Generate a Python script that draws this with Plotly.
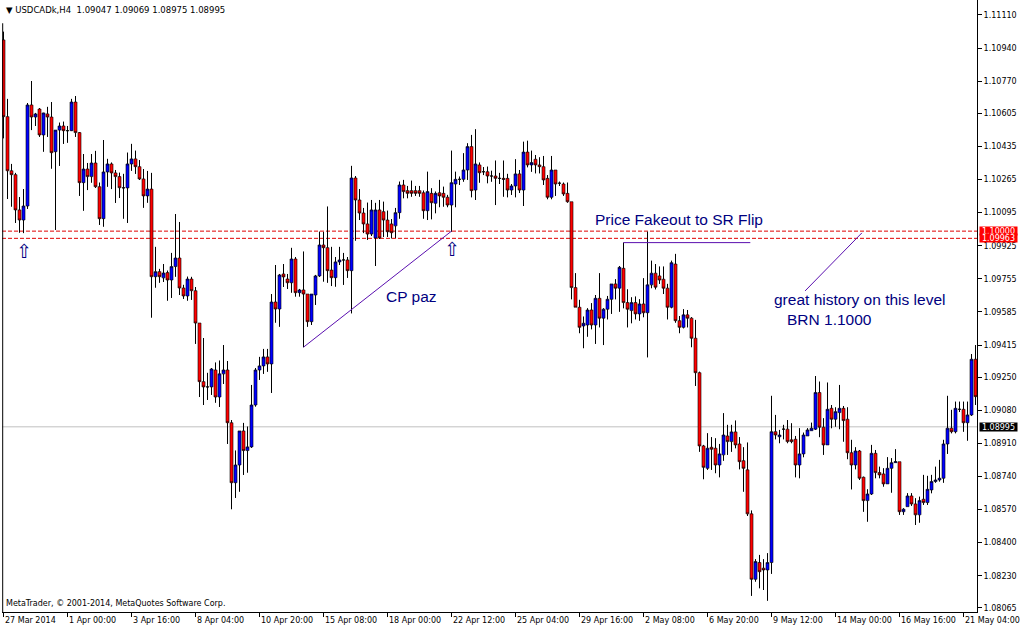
import plotly.graph_objects as go

# ---------------- data (USDCAD H4) ----------------
opens = [1.10982,1.10588,1.10310,1.10290,1.10109,1.10057,1.10129,1.10648,1.10586,1.10627,
         1.10494,1.10602,1.10586,1.10408,1.10519,1.10540,1.10516,1.10516,1.10663,1.10506,
         1.10249,1.10319,1.10280,1.10350,1.10228,1.10064,1.10304,1.10345,1.10299,1.10280,
         1.10223,1.10222,1.10345,1.10371,1.10331,1.10268,1.10181,1.10216,1.09766,1.09792,
         1.09760,1.09787,1.09749,1.09818,1.09862,1.09708,1.09667,1.09754,1.09694,1.09528,
         1.09227,1.09200,1.09200,1.09287,1.09148,1.09267,1.09287,1.09016,1.08708,1.08799,
         1.08974,1.08873,1.08892,1.09107,1.09287,1.09308,1.09354,1.09318,1.09636,1.09600,
         1.09780,1.09754,1.09735,1.09857,1.09684,1.09698,1.09677,1.09535,1.09672,1.09770,
         1.09929,1.09915,1.09800,1.09761,1.09842,1.09852,1.09852,1.09797,1.10273,1.10160,
         1.10093,1.10037,1.09985,1.09965,1.10109,1.10100,1.10057,1.10037,1.10027,1.10095,
         1.10237,1.10208,1.10208,1.10208,1.10208,1.10197,1.10105,1.10194,1.10143,1.10197,
         1.10194,1.10174,1.10134,1.10242,1.10266,1.10266,1.10314,1.10434,1.10211,1.10340,
         1.10305,1.10305,1.10283,1.10283,1.10271,1.10271,1.10271,1.10211,1.10232,1.10294,
         1.10211,1.10406,1.10340,1.10369,1.10340,1.10331,1.10271,1.10174,1.10314,1.10246,
         1.10242,1.10194,1.10151,1.09710,1.09609,1.09513,1.09518,1.09595,1.09518,1.09655,
         1.09553,1.09599,1.09650,1.09729,1.09707,1.09809,1.09633,1.09592,1.09633,1.09575,
         1.09626,1.09581,1.09724,1.09784,1.09770,1.09753,1.09707,1.09609,1.09831,1.09540,
         1.09506,1.09570,1.09553,1.09450,1.09273,1.08897,1.08782,1.08890,1.08885,1.08799,
         1.08851,1.08948,1.08919,1.08969,1.08907,1.08821,1.08774,1.08548,1.08212,1.08298,
         1.08269,1.08260,1.08298,1.08970,1.08944,1.08983,1.08983,1.08928,1.08931,1.08799,
         1.08856,1.08948,1.08975,1.08983,1.09171,1.08993,1.08902,1.09090,1.09034,1.09068,
         1.09090,1.09034,1.08862,1.08799,1.08871,1.08736,1.08616,1.08650,1.08859,1.08760,
         1.08753,1.08702,1.08782,1.08811,1.08816,1.08559,1.08585,1.08640,1.08599,1.08543,
         1.08623,1.08606,1.08671,1.08714,1.08722,1.08731,1.08907,1.08988,1.08970,1.09085,
         1.09085,1.09016,1.09056,1.09342]
highs = [1.11024,1.10679,1.10345,1.10299,1.10175,1.10216,1.10658,1.10771,1.10607,1.10632,
         1.10608,1.10638,1.10663,1.10519,1.10557,1.10562,1.10540,1.10679,1.10694,1.10509,
         1.10396,1.10350,1.10396,1.10412,1.10249,1.10468,1.10371,1.10352,1.10314,1.10300,
         1.10294,1.10403,1.10448,1.10413,1.10365,1.10319,1.10309,1.10299,1.09919,1.09806,
         1.09831,1.09797,1.09888,1.10088,1.10047,1.09724,1.09766,1.09765,1.09713,1.09528,
         1.09451,1.09272,1.09297,1.09325,1.09335,1.09415,1.09333,1.09030,1.08873,1.08974,
         1.09015,1.08996,1.09210,1.09297,1.09354,1.09395,1.09395,1.09677,1.09826,1.09780,
         1.09831,1.09780,1.09914,1.09867,1.09703,1.09895,1.09677,1.09677,1.09775,1.09997,
         1.09996,1.10126,1.09919,1.09867,1.09919,1.09888,1.09867,1.10335,1.10283,1.10216,
         1.10119,1.10146,1.10160,1.10145,1.10160,1.10151,1.10105,1.10062,1.10119,1.10254,
         1.10263,1.10232,1.10259,1.10232,1.10232,1.10208,1.10305,1.10220,1.10203,1.10263,
         1.10228,1.10186,1.10413,1.10305,1.10280,1.10400,1.10451,1.10494,1.10523,1.10352,
         1.10329,1.10331,1.10310,1.10362,1.10299,1.10362,1.10294,1.10242,1.10369,1.10314,
         1.10459,1.10464,1.10413,1.10391,1.10379,1.10386,1.10288,1.10386,1.10314,1.10254,
         1.10249,1.10249,1.10151,1.09784,1.09647,1.09561,1.09604,1.09630,1.09672,1.09784,
         1.09604,1.09667,1.09729,1.09753,1.09821,1.09941,1.09701,1.09660,1.09664,1.09650,
         1.09758,1.09997,1.09848,1.09831,1.09818,1.09818,1.09729,1.09848,1.09883,1.09564,
         1.09599,1.09595,1.09558,1.09544,1.09278,1.08902,1.08962,1.08942,1.08936,1.08907,
         1.09065,1.09005,1.09005,1.09027,1.08942,1.08890,1.08914,1.08565,1.08315,1.08337,
         1.08315,1.08346,1.09154,1.09056,1.08979,1.09005,1.09030,1.09013,1.08948,1.08988,
         1.08965,1.08988,1.09016,1.09256,1.09227,1.09039,1.09222,1.09107,1.09095,1.09210,
         1.09102,1.09095,1.08928,1.08890,1.08876,1.08739,1.08674,1.08902,1.08876,1.08790,
         1.08782,1.08839,1.08834,1.08880,1.08816,1.08577,1.08654,1.08654,1.08628,1.08636,
         1.08748,1.08743,1.08748,1.08790,1.08825,1.08928,1.09154,1.09082,1.09124,1.09124,
         1.09124,1.09124,1.09369,1.09415]
lows = [1.10477,1.10165,1.10126,1.10042,1.09992,1.09990,1.10114,1.10519,1.10540,1.10484,
        1.10408,1.10484,1.10321,1.10006,1.10335,1.10448,1.10454,1.10514,1.10484,1.10181,
        1.10105,1.10211,1.10249,1.10222,1.10032,1.10023,1.10228,1.10216,1.10145,1.10170,
        1.10064,1.10042,1.10310,1.10294,1.10263,1.10120,1.10146,1.09556,1.09710,1.09735,
        1.09739,1.09643,1.09657,1.09766,1.09672,1.09652,1.09643,1.09647,1.09421,1.09148,
        1.09107,1.09133,1.09159,1.09119,1.09097,1.09215,1.08907,1.08572,1.08630,1.08662,
        1.08748,1.08760,1.08887,1.09099,1.09236,1.09267,1.09278,1.09169,1.09530,1.09509,
        1.09713,1.09703,1.09684,1.09664,1.09664,1.09404,1.09509,1.09518,1.09621,1.09765,
        1.09741,1.09735,1.09718,1.09715,1.09826,1.09724,1.09760,1.09578,1.09951,1.10057,
        1.09990,1.09955,1.09975,1.09821,1.09960,1.09970,1.09970,1.09963,1.09965,1.10064,
        1.10169,1.10169,1.10177,1.10181,1.10177,1.10064,1.10057,1.10061,1.10092,1.10123,
        1.10126,1.10123,1.09997,1.10123,1.10237,1.10254,1.10263,1.10174,1.10160,1.10249,
        1.10288,1.10246,1.10254,1.10134,1.10242,1.10177,1.10174,1.10186,1.10174,1.10196,
        1.10129,1.10328,1.10305,1.10297,1.10297,1.10237,1.10164,1.10164,1.10181,1.10232,
        1.10181,1.10146,1.09650,1.09609,1.09476,1.09399,1.09458,1.09496,1.09421,1.09506,
        1.09415,1.09547,1.09575,1.09650,1.09586,1.09604,1.09506,1.09527,1.09547,1.09540,
        1.09558,1.09352,1.09707,1.09701,1.09729,1.09677,1.09547,1.09604,1.09530,1.09476,
        1.09501,1.09506,1.09404,1.09205,1.08867,1.08726,1.08774,1.08774,1.08757,1.08736,
        1.08821,1.08851,1.08867,1.08885,1.08777,1.08662,1.08537,1.08127,1.08200,1.08166,
        1.08157,1.08102,1.08240,1.08931,1.08911,1.08931,1.08911,1.08911,1.08736,1.08731,
        1.08839,1.08948,1.08974,1.08979,1.08942,1.08851,1.08902,1.08988,1.08996,1.08983,
        1.08919,1.08829,1.08674,1.08777,1.08722,1.08559,1.08508,1.08645,1.08731,1.08731,
        1.08688,1.08702,1.08657,1.08810,1.08543,1.08543,1.08585,1.08589,1.08491,1.08503,
        1.08594,1.08594,1.08654,1.08708,1.08714,1.08708,1.08856,1.08962,1.08962,1.09071,
        1.08970,1.08924,1.09051,1.09107]
closes = [1.10588,1.10310,1.10290,1.10109,1.10057,1.10129,1.10648,1.10586,1.10602,1.10494,
          1.10607,1.10586,1.10403,1.10519,1.10540,1.10516,1.10516,1.10663,1.10506,1.10249,
          1.10319,1.10280,1.10350,1.10228,1.10064,1.10304,1.10345,1.10299,1.10280,1.10223,
          1.10222,1.10345,1.10371,1.10331,1.10268,1.10181,1.10216,1.09766,1.09792,1.09766,
          1.09785,1.09749,1.09818,1.09862,1.09708,1.09667,1.09754,1.09694,1.09528,1.09227,
          1.09200,1.09200,1.09292,1.09148,1.09267,1.09287,1.09016,1.08708,1.08799,1.08974,
          1.08873,1.08892,1.09107,1.09287,1.09308,1.09354,1.09318,1.09636,1.09600,1.09775,
          1.09765,1.09735,1.09857,1.09684,1.09698,1.09677,1.09535,1.09677,1.09770,1.09929,
          1.09915,1.09797,1.09761,1.09842,1.09852,1.09852,1.09797,1.10273,1.10160,1.10093,
          1.10037,1.09985,1.10109,1.10109,1.09965,1.10057,1.09997,1.09992,1.10095,1.10237,
          1.10203,1.10194,1.10194,1.10194,1.10194,1.10105,1.10203,1.10146,1.10194,1.10181,
          1.10174,1.10134,1.10249,1.10266,1.10266,1.10314,1.10434,1.10208,1.10345,1.10300,
          1.10305,1.10283,1.10283,1.10271,1.10271,1.10266,1.10211,1.10232,1.10294,1.10211,
          1.10406,1.10340,1.10352,1.10340,1.10331,1.10263,1.10174,1.10314,1.10242,1.10246,
          1.10191,1.10151,1.09710,1.09609,1.09506,1.09527,1.09595,1.09518,1.09655,1.09553,
          1.09599,1.09650,1.09729,1.09707,1.09814,1.09633,1.09599,1.09633,1.09575,1.09626,
          1.09581,1.09724,1.09784,1.09712,1.09749,1.09707,1.09609,1.09838,1.09540,1.09506,
          1.09570,1.09553,1.09450,1.09273,1.08897,1.08787,1.08885,1.08880,1.08799,1.08856,
          1.08953,1.08919,1.08969,1.08902,1.08816,1.08782,1.08548,1.08212,1.08303,1.08251,
          1.08260,1.08298,1.08970,1.08953,1.08953,1.08983,1.08919,1.08919,1.08799,1.08856,
          1.08953,1.08979,1.08988,1.09171,1.08993,1.08902,1.09085,1.09034,1.09073,1.09090,
          1.09027,1.08862,1.08799,1.08871,1.08731,1.08616,1.08650,1.08859,1.08760,1.08748,
          1.08702,1.08782,1.08811,1.08816,1.08559,1.08572,1.08640,1.08599,1.08543,1.08616,
          1.08606,1.08674,1.08714,1.08722,1.08731,1.08907,1.08988,1.08970,1.09090,1.09085,
          1.09016,1.09056,1.09342,1.09150]

date_tick_bars = [0, 16, 32, 48, 64, 80, 96, 112, 128, 144, 160, 176, 192, 208, 224, 240]
date_tick_labels = ["27 Mar 2014", "1 Apr 00:00", "3 Apr 16:00", "8 Apr 04:00", "10 Apr 20:00",
                    "15 Apr 08:00", "18 Apr 00:00", "22 Apr 12:00", "25 Apr 04:00", "29 Apr 16:00",
                    "2 May 08:00", "6 May 20:00", "9 May 12:00", "14 May 00:00", "16 May 16:00",
                    "21 May 04:00"]
price_ticks = [1.11110, 1.10940, 1.10770, 1.10605, 1.10435, 1.10265, 1.10095, 1.09925, 1.09755,
               1.09585, 1.09415, 1.09250, 1.09080, 1.08910, 1.08740, 1.08570, 1.08400, 1.08230,
               1.08065]

symbol_title = "USDCADk,H4"
last_ohlc = [1.09047, 1.09069, 1.08975, 1.08995]
level_lines = [1.10000, 1.09963]
bid_price = 1.08995

# drawn objects (bar index, price)
cp_line_bars = [75, 112]
cp_line_prices = [1.09404, 1.10000]
fake_line_bars = [155, 186.7]
fake_line_price = 1.09941
hist_line_bars = [200.4, 214.6]
hist_line_prices = [1.09693, 1.09991]
arrow_bars = [5, 112]
arrow_prices = [1.09898, 1.09908]

bars = list(range(len(opens)))
y_min, y_max = 1.08044, 1.11187
x_min, x_max = -0.375, len(opens) - 0.625

TXT = "DejaVu Sans"
ANN = "Liberation Sans"
NAVY = "#000080"
PURPLE = "#5A0FAF"

fig = go.Figure()

# wicks (upper and lower shadows, drawn outside the bodies)
wick_x, wick_y = [], []
for b, o, h, l, c in zip(bars, opens, highs, lows, closes):
    top, bot = max(o, c), min(o, c)
    wick_x += [b, b, None, b, b, None]
    wick_y += [h, top, None, bot, l, None]
fig.add_trace(go.Scatter(x=wick_x, y=wick_y, mode="lines", line=dict(color="black", width=1),
                         hoverinfo="skip", showlegend=False))

fig.add_trace(go.Candlestick(
    x=bars, open=opens, high=highs, low=lows, close=closes,
    increasing=dict(fillcolor="#0000FF", line=dict(color="black", width=0.6)),
    decreasing=dict(fillcolor="#FF0000", line=dict(color="black", width=0.6)),
    whiskerwidth=0, hoverinfo="skip", showlegend=False))

# level lines
for p in level_lines:
    fig.add_shape(type="line", xref="x", yref="y", x0=x_min, x1=x_max, y0=p, y1=p,
                  line=dict(color="#E00000", width=1, dash="4px,2px"), layer="below")
fig.add_shape(type="line", xref="x", yref="y", x0=x_min, x1=x_max, y0=bid_price, y1=bid_price,
              line=dict(color="#C0C0C0", width=1), layer="below")
# left frame line
fig.add_shape(type="line", xref="x", yref="paper", x0=-0.2, x1=-0.2, y0=0, y1=0.962,
              line=dict(color="black", width=1))
# trend lines
fig.add_trace(go.Scatter(x=cp_line_bars, y=cp_line_prices, mode="lines",
                         line=dict(color=PURPLE, width=1), hoverinfo="skip", showlegend=False))
fig.add_trace(go.Scatter(x=fake_line_bars, y=[fake_line_price, fake_line_price], mode="lines",
                         line=dict(color=PURPLE, width=1), hoverinfo="skip", showlegend=False))
fig.add_trace(go.Scatter(x=hist_line_bars, y=hist_line_prices, mode="lines",
                         line=dict(color=PURPLE, width=1), hoverinfo="skip", showlegend=False))

ann = []
# date labels (left aligned at the tick)
for b, t in zip(date_tick_bars, date_tick_labels):
    ann.append(dict(x=b, xref="x", y=0, yref="paper", yanchor="top", xanchor="left",
                    text=t, showarrow=False, yshift=-2, xshift=-1,
                    font=dict(family=TXT, size=8, color="black")))
# price boxes
for p in level_lines:
    ann.append(dict(x=1, xref="paper", y=p, yref="y", xanchor="left", yanchor="middle",
                    text=f"{p:.5f}", showarrow=False, xshift=2, bgcolor="#FF0000",
                    width=37, height=8, borderpad=0,
                    font=dict(family=TXT, size=8, color="white")))
ann.append(dict(x=1, xref="paper", y=bid_price, yref="y", xanchor="left", yanchor="middle",
                text=f"{bid_price:.5f}", showarrow=False, xshift=2, bgcolor="black",
                width=37, height=8, borderpad=0,
                font=dict(family=TXT, size=8, color="white")))
# title and copyright
title = "\u25BC\u00a0" + symbol_title + "\u00a0\u00a0" + " ".join(f"{v:.5f}" for v in last_ohlc)
ann.append(dict(x=0, xref="paper", y=1, yref="paper", xanchor="left", yanchor="top",
                text=title, showarrow=False, xshift=2, yshift=-3,
                font=dict(family=TXT, size=8.5, color="black")))
ann.append(dict(x=0, xref="paper", y=0, yref="paper", xanchor="left", yanchor="bottom",
                text="MetaTrader, \u00a9 2001-2014, MetaQuotes Software Corp.", showarrow=False,
                xshift=2, yshift=2, font=dict(family=TXT, size=8, color="black")))
# arrows
for b, p in zip(arrow_bars, arrow_prices):
    ann.append(dict(x=b, y=p, xref="x", yref="y", text="\u21E7", showarrow=False,
                    font=dict(family=TXT, size=19, color=NAVY)))
# comments
ann.append(dict(x=168.9, y=1.10062, xref="x", yref="y", text="Price Fakeout to SR Flip",
                showarrow=False, font=dict(family=ANN, size=15.5, color=NAVY)))
ann.append(dict(x=101.9, y=1.09662, xref="x", yref="y", text="CP paz",
                showarrow=False, font=dict(family=ANN, size=15.5, color=NAVY)))
ann.append(dict(x=214.1, y=1.09647, xref="x", yref="y", text="great history on this level",
                showarrow=False, font=dict(family=ANN, size=15.5, color=NAVY)))
ann.append(dict(x=206.6, y=1.09544, xref="x", yref="y", text="BRN 1.1000",
                showarrow=False, font=dict(family=ANN, size=15.5, color=NAVY)))

fig.update_layout(
    width=1020, height=630, margin=dict(l=2, r=43, t=0, b=18),
    paper_bgcolor="white", plot_bgcolor="white", showlegend=False,
    boxgap=0.25, boxgroupgap=0,
    annotations=ann,
    xaxis=dict(range=[x_min, x_max], rangeslider=dict(visible=False), showgrid=False,
               zeroline=False, showline=True, linecolor="black", linewidth=1,
               ticks="outside", ticklen=4, tickcolor="black",
               tickvals=date_tick_bars, ticktext=[""] * len(date_tick_bars)),
    yaxis=dict(side="right", range=[y_min, y_max], showgrid=False, zeroline=False,
               showline=True, linecolor="black", linewidth=1, ticks="outside", ticklen=4,
               tickcolor="black", tickvals=price_ticks,
               ticktext=[f"{v:.5f}" for v in price_ticks],
               tickfont=dict(family=TXT, size=8, color="black")),
)
fig.write_html("out.html", config={"displayModeBar": False},
               post_script="document.body.style.margin='0';document.body.style.overflow='hidden';")
